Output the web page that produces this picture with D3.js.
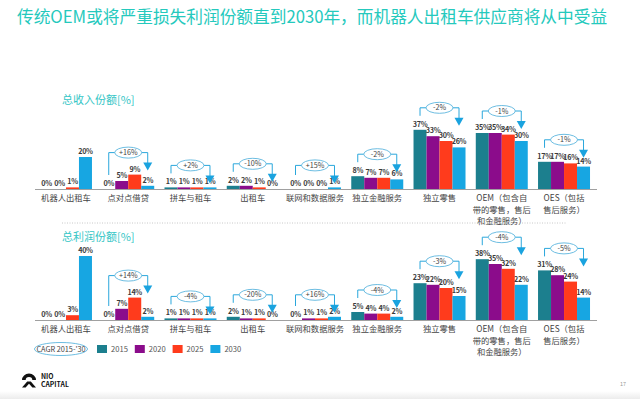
<!DOCTYPE html>
<html>
<head>
<meta charset="utf-8">
<script src="https://cdn.jsdelivr.net/npm/d3@7"></script>
<style>
  body { margin: 0; background: #fff; }
  text { font-family: "Noto Sans CJK SC", "Noto Sans", sans-serif; }
</style>
</head>
<body>
<div id="chart"></div>
<script>
// categories and series
var categories = ["机器人出租车", "点对点借贷", "拼车与租车", "出租车", "联网和数据服务",
  "独立金融服务", "独立零售", "OEM（包含自|带的零售，售后|和金融服务）", "OES（包括|售后服务）"];
var years = ["2015", "2020", "2025", "2030"];

var revenue2015 = [0, 0, 1, 2, 0, 8, 37, 35, 17];
var revenue2020 = [0, 5, 1, 2, 0, 7, 33, 35, 17];
var revenue2025 = [1, 9, 1, 1, 0, 7, 30, 34, 16];
var revenue2030 = [20, 2, 1, 0, 1, 6, 26, 30, 14];
var revenueCagr = [null, "+16%", "+2%", "-10%", "+15%", "-2%", "-2%", "-1%", "-1%"];

var profit2015 = [0, 0, 1, 2, 0, 5, 23, 38, 31];
var profit2020 = [0, 7, 1, 1, 1, 4, 22, 35, 28];
var profit2025 = [3, 14, 1, 1, 1, 4, 20, 32, 24];
var profit2030 = [40, 2, 1, 0, 2, 2, 15, 22, 14];
var profitCagr = [null, "+14%", "-4%", "-20%", "+16%", "-4%", "-3%", "-4%", "-5%"];

var colors = ["#1c7f8e", "#8b0c8b", "#ff3b1c", "#17a6e2"];
var svgWidth = 640;
var svgHeight = 399;

var svg = d3.select("#chart")
  .append("svg")
  .attr("width", svgWidth)
  .attr("height", svgHeight);

// title
svg.append("text")
  .attr("x", 17)
  .attr("y", 23)
  .attr("fill", "#25c9bd")
  .attr("font-size", 16.7)
  .text("传统OEM或将严重损失利润份额直到2030年，而机器人出租车供应商将从中受益");

var x = d3.scaleBand()
  .domain(categories)
  .range([35, 595])
  .paddingInner(0.165)
  .paddingOuter(0.08);

var xYear = d3.scaleBand()
  .domain(years)
  .range([0, x.bandwidth()]);

function drawPanel(baseline, subtitle, subtitleY, series, cagr) {
  var y = d3.scaleLinear().domain([0, 40]).range([baseline, baseline - 64]);
  var g = svg.append("g");

  g.append("text")
    .attr("x", 62)
    .attr("y", subtitleY)
    .attr("fill", "#35c6c6")
    .attr("font-size", 11)
    .text(subtitle);

  var rows = [];
  categories.forEach(function(c, i) {
    years.forEach(function(yr, j) {
      rows.push({ cat: c, year: yr, value: series[j][i], k: j });
    });
  });

  var groups = g.selectAll(".bar")
    .data(rows)
    .enter();

  groups.append("rect")
    .attr("x", d => x(d.cat) + xYear(d.year))
    .attr("y", d => y(d.value))
    .attr("width", xYear.bandwidth())
    .attr("height", d => baseline - y(d.value))
    .attr("fill", d => colors[d.k]);

  groups.append("text")
    .attr("x", d => x(d.cat) + xYear(d.year) + xYear.bandwidth() / 2)
    .attr("y", d => y(d.value) - 3)
    .attr("text-anchor", "middle")
    .attr("font-family", "Roboto, sans-serif")
    .attr("font-size", 7.2)
    .attr("letter-spacing", -0.3)
    .attr("font-weight", "bold")
    .attr("fill", "#3a3a3a")
    .text(d => d.value + "%");

  // axis with wrapped category labels
  var axis = g.append("g")
    .attr("transform", `translate(0, ${baseline})`)
    .call(d3.axisBottom(x).tickSize(0).tickPadding(0));
  axis.select(".domain").attr("stroke", "#a0a0a0").attr("d", "M35,0.5H597");
  axis.selectAll(".tick text").each(function(d) {
    var t = d3.select(this).text(null)
      .attr("fill", "#444")
      .attr("font-size", 8.3)
      .attr("y", 0);
    d.split("|").forEach(function(line, li) {
      t.append("tspan")
        .attr("x", 0)
        .attr("dy", li == 0 ? "1.45em" : "1.4em")
        .text(line);
    });
  });

  // CAGR brackets
  categories.forEach(function(c, i) {
    if (!cagr[i]) return;
    var vals = series.map(s => s[i]);
    var hy = y(d3.max(vals)) - 22;
    var xl = x(c) + xYear("2015") + xYear.bandwidth() / 2;
    var xr = x(c) + xYear("2030") + xYear.bandwidth() / 2;
    var yl = y(vals[0]) - 14;
    var tip = hy + 18;
    g.append("path")
      .attr("d", `M${xl},${yl}V${hy}H${xr}V${tip - 7}`)
      .attr("fill", "none")
      .attr("stroke", "#2aa7dc")
      .attr("stroke-width", 1);
    g.append("path")
      .attr("d", `M${xr - 4.5},${tip - 8}L${xr + 4.5},${tip - 8}L${xr},${tip}Z`)
      .attr("fill", "#1aa3df");
    var cx = x(c) + x.bandwidth() / 2;
    g.append("ellipse")
      .attr("cx", cx)
      .attr("cy", hy)
      .attr("rx", 13.5)
      .attr("ry", 5.5)
      .attr("fill", "#fff")
      .attr("stroke", "#5cb6de")
      .attr("stroke-width", 0.9);
    g.append("text")
      .attr("x", cx)
      .attr("y", hy + 2.6)
      .attr("text-anchor", "middle")
      .attr("font-size", 7.2)
      .attr("fill", "#444")
      .text(cagr[i]);
  });
}

drawPanel(189, "总收入份额[%]", 104, [revenue2015, revenue2020, revenue2025, revenue2030], revenueCagr);

// dotted separator
svg.append("line")
  .attr("x1", 62).attr("x2", 567)
  .attr("y1", 223).attr("y2", 223)
  .attr("stroke", "#c8c8c8")
  .attr("stroke-dasharray", "1,1.5");

drawPanel(320, "总利润份额[%]", 241, [profit2015, profit2020, profit2025, profit2030], profitCagr);

// legend
var legend = svg.append("g");
legend.append("ellipse")
  .attr("cx", 61).attr("cy", 349)
  .attr("rx", 26.5).attr("ry", 6.5)
  .attr("fill", "#fff")
  .attr("stroke", "#5cb6de")
  .attr("stroke-width", 0.9);
legend.append("text")
  .attr("x", 61).attr("y", 351.8)
  .attr("text-anchor", "middle")
  .attr("font-size", 7.3)
  .attr("fill", "#444")
  .text("CAGR 2015-'30");
years.forEach(function(yr, j) {
  legend.append("rect")
    .attr("x", 97 + j * 37.8).attr("y", 345)
    .attr("width", 10).attr("height", 8)
    .attr("fill", colors[j]);
  legend.append("text")
    .attr("x", 111 + j * 37.8).attr("y", 352)
    .attr("font-size", 7.6)
    .attr("fill", "#555")
    .text(yr);
});

// NIO capital logo
var logo = svg.append("g").attr("transform", "translate(22, 373)");
logo.append("path")
  .attr("d", "M0,7 A7,6.5 0 0 1 14,7 L10.3,7 A3.3,3 0 0 0 3.7,7 Z")
  .attr("fill", "#111");
logo.append("path")
  .attr("d", "M0,14.5 L5.2,8.5 L8.8,8.5 L14,14.5 L10.4,14.5 L7,10.8 L3.6,14.5 Z")
  .attr("fill", "#111");
logo.append("text")
  .attr("x", 19).attr("y", 5.9)
  .attr("font-size", 6.8).attr("font-weight", "bold")
  .attr("font-family", "Lato, sans-serif")
  .attr("fill", "#111")
  .text("NIO");
logo.append("text")
  .attr("x", 19).attr("y", 14.4)
  .attr("font-size", 6.8).attr("font-weight", "bold")
  .attr("font-family", "Lato, sans-serif")
  .attr("fill", "#111")
  .text("CAPITAL");

// page number and bottom band
svg.append("text")
  .attr("x", 620).attr("y", 386)
  .attr("font-size", 5.5)
  .attr("fill", "#999")
  .text("17");

var grad = svg.append("defs").append("linearGradient")
  .attr("id", "band").attr("x1", 0).attr("x2", 0).attr("y1", 0).attr("y2", 1);
grad.append("stop").attr("offset", "0").attr("stop-color", "#fff");
grad.append("stop").attr("offset", "1").attr("stop-color", "#ececec");
svg.append("rect")
  .attr("x", 0).attr("y", 391)
  .attr("width", svgWidth).attr("height", 8)
  .attr("fill", "url(#band)");
</script>
</body>
</html>
